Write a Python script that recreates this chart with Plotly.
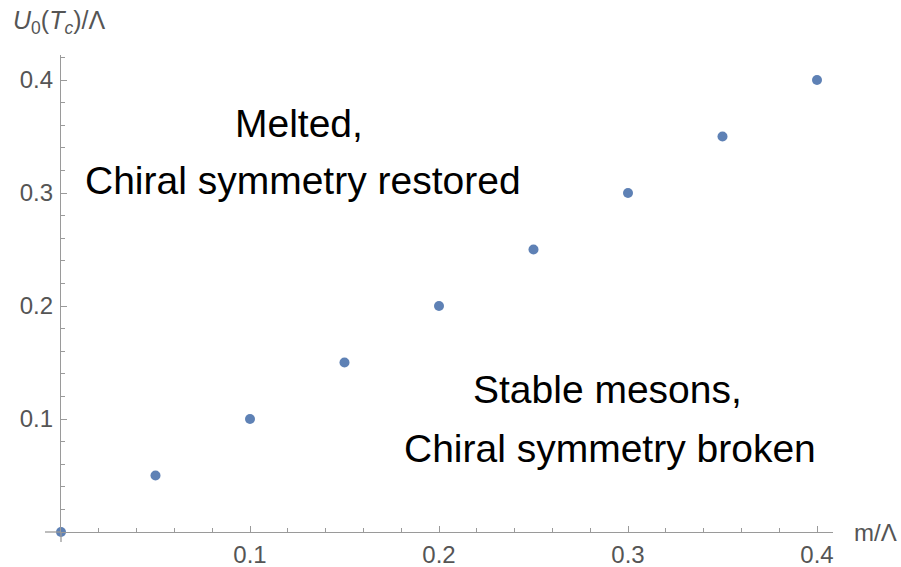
import plotly.graph_objects as go

# Data
m_over_lambda = [0.0, 0.05, 0.10, 0.15, 0.20, 0.25, 0.30, 0.35, 0.40]
u0_tc_over_lambda = [0.0, 0.05, 0.10, 0.15, 0.20, 0.25, 0.30, 0.35, 0.40]
x_tick_vals = [0.1, 0.2, 0.3, 0.4]
x_tick_text = ["0.1", "0.2", "0.3", "0.4"]
y_tick_vals = [0.1, 0.2, 0.3, 0.4]
y_tick_text = ["0.1", "0.2", "0.3", "0.4"]

AXIS_COLOR = "#9a9a9a"
LABEL_COLOR = "#555555"
MARKER_COLOR = "#5e81b5"
FONT = "Liberation Sans, Arial, sans-serif"

W, H = 901, 567
ML, MR, MT, MB = 61, 68, 55, 35
plot_w = W - ML - MR
plot_h = H - MT - MB
x_px_per_unit = 1890.0
y_px_per_unit = 1130.0

fig = go.Figure()
fig.add_trace(go.Scatter(
    x=m_over_lambda, y=u0_tc_over_lambda, mode="markers",
    marker=dict(color=MARKER_COLOR, size=10, line=dict(width=0)),
    cliponaxis=False, showlegend=False, hoverinfo="skip",
))

axis_common = dict(
    showgrid=False, zeroline=False, showline=True, linecolor=AXIS_COLOR, linewidth=1.3,
    ticks="inside", ticklen=6, tickwidth=1, tickcolor=AXIS_COLOR,
    tickfont=dict(family=FONT, size=24, color=LABEL_COLOR),
    minor=dict(ticks="inside", ticklen=4, tickwidth=1, tickcolor=AXIS_COLOR,
               tickmode="linear", tick0=0, dtick=0.02, showgrid=False),
    tickmode="array", fixedrange=True, automargin=False,
)

fig.update_layout(
    width=W, height=H,
    margin=dict(l=ML, r=MR, t=MT, b=MB, pad=0, autoexpand=False),
    paper_bgcolor="white", plot_bgcolor="white",
    xaxis=dict(range=[0, plot_w / x_px_per_unit], tickvals=x_tick_vals, ticktext=x_tick_text,
               ticklabelstandoff=1, **axis_common),
    yaxis=dict(range=[0, plot_h / y_px_per_unit], tickvals=y_tick_vals, ticktext=y_tick_text,
               ticklabelstandoff=2, **axis_common),
)

# axis extensions beyond the origin (Mathematica style crossing axes)
fig.add_shape(type="line", xref="x domain", yref="y domain",
              x0=0, x1=0, y0=-10 / plot_h, y1=0,
              line=dict(color=AXIS_COLOR, width=1.3))
fig.add_shape(type="line", xref="x domain", yref="y domain",
              x0=-16 / plot_w, x1=0, y0=0, y1=0,
              line=dict(color=AXIS_COLOR, width=1.3))

# axis labels
fig.add_annotation(xref="paper", yref="paper", x=-50 / plot_w, y=1 + 33 / plot_h,
                   xanchor="left", yanchor="middle", showarrow=False,
                   text="<i>U</i><sub>0</sub>(<i>T</i><sub><i>c</i></sub>)/Λ",
                   font=dict(family=FONT, size=25, color=LABEL_COLOR))
fig.add_annotation(xref="paper", yref="y", x=1 + 19 / plot_w, y=0,
                   xanchor="left", yanchor="middle", showarrow=False,
                   text="m/Λ", font=dict(family=FONT, size=24, color=LABEL_COLOR))

# region labels
region_texts = ["Melted,", "Chiral symmetry restored", "Stable mesons,", "Chiral symmetry broken"]
region_x = [0.1259, 0.1278, 0.2894, 0.2905]
region_y = [0.3618, 0.3108, 0.1261, 0.0739]
for t, xx, yy in zip(region_texts, region_x, region_y):
    fig.add_annotation(x=xx, y=yy, xref="x", yref="y", text=t, showarrow=False,
                       xanchor="center", yanchor="middle",
                       font=dict(family=FONT, size=39, color="black"))

fig.write_html("out.html")
